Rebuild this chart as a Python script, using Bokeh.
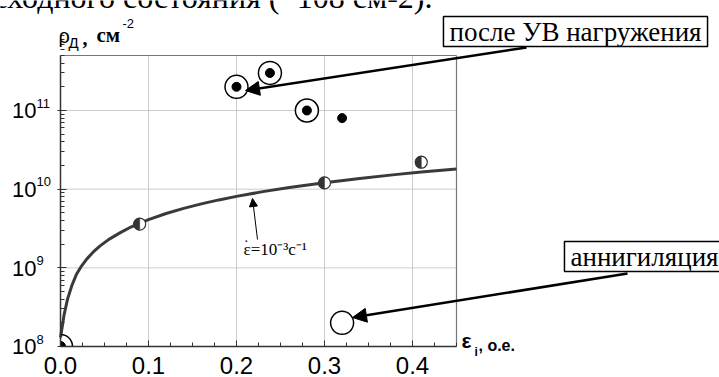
from math import log10, pi
from bokeh.plotting import figure
from bokeh.models import Label, Arrow, NormalHead, SingleIntervalTicker, FixedTicker, PrintfTickFormatter, Range1d
from bokeh.embed import file_html
from bokeh.resources import INLINE

# ---- data ----
curve_x = [0.0, 0.002, 0.004, 0.008, 0.013, 0.018, 0.023, 0.03, 0.037, 0.045, 0.055, 0.068, 0.08, 0.09,
           0.1, 0.12, 0.14, 0.16, 0.18, 0.2, 0.23, 0.26, 0.3, 0.34, 0.38, 0.41, 0.45]
curve_y = [1.3e8, 1.8e8, 2.5e8, 4.0e8, 6.0e8, 8.2e8, 1.02e9, 1.3e9, 1.58e9, 1.9e9, 2.3e9, 2.8e9, 3.3e9, 3.7e9,
           4.1e9, 4.9e9, 5.7e9, 6.5e9, 7.3e9, 8.1e9, 9.3e9, 1.05e10, 1.21e10, 1.37e10, 1.53e10, 1.65e10, 1.8e10]

uv_x = [0.2, 0.238, 0.28]          # after shock-wave loading (circled dots)
uv_y = [2.0e11, 3.0e11, 1.0e11]
dot_x = [0.32]                      # plain dot
dot_y = [8.0e10]
half_x = [0.09, 0.30, 0.41]         # half-filled points
half_y = [3.6e9, 1.2e10, 2.2e10]
ann_x = [0.32]                      # annihilation (open circle)
ann_y = [2.0e8]
init_x = [0.0]                      # initial state
init_y = [1.0e8]

x_ticks = [0.0, 0.1, 0.2, 0.3, 0.4]
y_ticks = [1e8, 1e9, 1e10, 1e11]
y_tick_exp = ["8", "9", "10", "11"]

XR = (0.0, 0.45)      # plotted area
YR = (1e8, 5e11)

# ---- layout (pixels of the 719x377 page) ----
W, H = 719, 377
FL, FR, FT, FB = 60, 456, 55, 346


def xd(px):
    return XR[0] + (px - FL) * (XR[1] - XR[0]) / (FR - FL)


def yd(py):
    return 10 ** (log10(YR[0]) + (FB - py) * (log10(YR[1]) - log10(YR[0])) / (FB - FT))


def ypx(v):
    return FB - (log10(v) - log10(YR[0])) * (FB - FT) / (log10(YR[1]) - log10(YR[0]))


# the frame covers the whole page; axes are pinned to the plotted area
p = figure(width=W, height=H, x_range=Range1d(xd(0), xd(W)), y_range=Range1d(yd(H), yd(0)),
           y_axis_type="log", output_backend="svg", toolbar_location=None,
           min_border_left=0, min_border_right=0, min_border_top=0, min_border_bottom=0)
p.background_fill_color = "white"
p.border_fill_color = "white"
p.outline_line_color = None
p.xgrid.visible = False
p.ygrid.visible = False

# grid lines and top/right border of the plotted area
p.segment(x0=x_ticks[1:], y0=[YR[0]] * 4, x1=x_ticks[1:], y1=[YR[1]] * 4, line_color="#cccccc", line_width=1)
p.segment(x0=[XR[0]] * 3, y0=y_ticks[1:], x1=[XR[1]] * 3, y1=y_ticks[1:], line_color="#cccccc", line_width=1)
p.segment(x0=[XR[0], XR[1]], y0=[YR[1], YR[0]], x1=[XR[1], XR[1]], y1=[YR[1], YR[1]],
          line_color="#777777", line_width=1.2)

xa = p.xaxis[0]
xa.fixed_location = YR[0]
xa.bounds = XR
xa.ticker = SingleIntervalTicker(interval=0.1, num_minor_ticks=4)
xa.formatter = PrintfTickFormatter(format="%.1f")
xa.major_label_text_font = "Liberation Sans"
xa.major_label_text_font_size = "24px"
xa.major_label_text_color = "black"
xa.major_label_standoff = 10
xa.major_tick_in = 6
xa.major_tick_out = 0
xa.minor_tick_in = 4
xa.minor_tick_out = 0
xa.axis_line_color = "#333333"
xa.axis_line_width = 1.5
xa.major_tick_line_color = "#333333"
xa.minor_tick_line_color = "#333333"

ya = p.yaxis[0]
ya.fixed_location = XR[0]
ya.bounds = YR
ya.ticker = FixedTicker(ticks=y_ticks, minor_ticks=[m * t for t in y_ticks for m in range(2, 10)])
ya.formatter = PrintfTickFormatter(format="%.0e")
ya.major_label_text_font_size = "9px"
ya.major_label_text_alpha = 0.0
ya.major_tick_in = 6
ya.major_tick_out = 3
ya.minor_tick_in = 4
ya.minor_tick_out = 0
ya.axis_line_color = "#333333"
ya.axis_line_width = 1.5
ya.major_tick_line_color = "#333333"
ya.minor_tick_line_color = "#333333"

# ---- glyphs ----
p.line(curve_x, curve_y, line_width=3, line_color="#3a3a3a")

p.scatter(uv_x, uv_y, marker="circle", size=23, fill_color="white", line_color="black", line_width=1.5)
p.scatter(uv_x, uv_y, marker="circle", size=9, fill_color="black", line_color="black")
p.scatter(dot_x, dot_y, marker="circle", size=9, fill_color="black", line_color="black")

p.scatter(half_x, half_y, marker="circle", size=12, fill_color="white", line_color="#333333", line_width=1.2)
p.wedge(half_x, half_y, radius=6, radius_units="screen", start_angle=pi / 2, end_angle=3 * pi / 2,
        fill_color="#333333", line_color="#333333", line_width=0.5)

p.scatter(ann_x, ann_y, marker="circle", size=23, fill_color="white", line_color="black", line_width=1.5)

# initial state, seen only inside the plotted quadrant
p.arc(init_x, init_y, radius=12, radius_units="screen", start_angle=0, end_angle=pi / 2,
      line_color="black", line_width=1.5)
p.wedge(init_x, init_y, radius=5, radius_units="screen", start_angle=0, end_angle=pi / 2,
        fill_color="black", line_color="black")


def lab(px, py, text, size, font="Liberation Sans", style="normal", align="left", baseline="alphabetic", **kw):
    if baseline == "alphabetic":
        py = py - 0.4 * size
    p.add_layout(Label(x=xd(px), y=yd(py), text=text, text_font=font, text_font_size=f"{size}px",
                       text_font_style=style, text_align=align, text_baseline=baseline,
                       text_color="black", **kw))


# y tick labels 10^n
for t, e in zip(y_ticks, y_tick_exp):
    g = ypx(t)
    lab(36, g + 9, "10", 22, align="right")
    lab(36, g - 2, e, 13)

# y axis title
lab(58, 43, "ρ", 20)
lab(68, 48, "Д", 15)
lab(82, 45, ",", 20, font="Liberation Serif", style="bold")
lab(96, 43, "см", 21, font="Liberation Serif", style="bold")
lab(122, 28, "-2", 13)

# x axis title
lab(461, 348, "ε", 21, style="bold")
lab(474, 356, "i", 12, style="bold")
lab(478, 351, ", o.e.", 16, style="bold")

# strain-rate note
lab(243, 256, "ε=10⁻³с⁻¹", 17, font="Liberation Serif")
lab(244, 242, ".", 14, font="Liberation Serif")

# cut text from the page above
lab(432, 9, "исходного состояния (~108 см-2).", 32, font="Liberation Serif", align="right")

# arrows
p.add_layout(Arrow(x_start=xd(526), y_start=yd(47), x_end=xd(245), y_end=yd(90), line_width=2.5,
                   line_color="black",
                   end=NormalHead(size=14, fill_color="black", line_color="black", line_width=1)))
p.add_layout(Arrow(x_start=xd(627), y_start=yd(273), x_end=xd(352), y_end=yd(317), line_width=2.5,
                   line_color="black",
                   end=NormalHead(size=14, fill_color="black", line_color="black", line_width=1)))
p.add_layout(Arrow(x_start=xd(257), y_start=yd(239), x_end=xd(252), y_end=yd(198), line_width=1,
                   line_color="black",
                   end=NormalHead(size=8, fill_color="black", line_color="black", line_width=1)))

# boxed labels
lab(575, 31, "после УВ нагружения", 27, font="Liberation Serif", align="center", baseline="middle",
    border_line_color="black", border_line_width=1.5, background_fill_color="white", padding=(6, 0))
lab(644, 256, "аннигиляция", 27, font="Liberation Serif", align="center", baseline="middle",
    border_line_color="black", border_line_width=1.5, background_fill_color="white", padding=(6, 0))

open("out.html", "w").write(file_html(p, INLINE))
